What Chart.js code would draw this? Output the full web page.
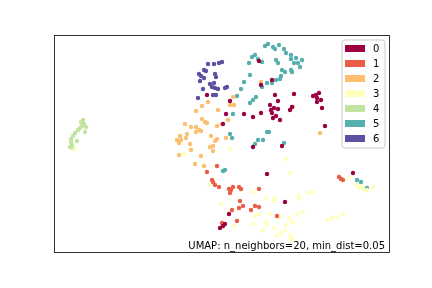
<!DOCTYPE html>
<html>
<head>
<meta charset="utf-8">
<script src="https://cdn.jsdelivr.net/npm/chart.js@4/dist/chart.umd.min.js"></script>
<style>
body { margin: 0; background: #fff; }
</style>
</head>
<body>
<canvas id="umap" width="432" height="288"></canvas>
<script>
// embedding coordinates, one array per label
var labels = ['0', '1', '2', '3', '4', '5', '6'];
var colors = ['#9e0142', '#ea5d47', '#fdbe6f', '#ffffbf', '#bfe5a0', '#55afad', '#5e4fa2'];
var caption = 'UMAP: n_neighbors=20, min_dist=0.05';

var xRange = [54, 389];
var yRange = [35, 252];

var cluster0 = [[207,95],[230,101],[259,61],[272,80],[261,85],[275,95],[294,94],[278,101],[270,105],
  [274,108],[278,109],[272,113],[276,116],[273,118],[280,120],[271,110],[290,110],[292,107],
  [261,113],[253,117],[244,114],[226,114],[223,124],[313,96],[316,95],[319,93],[317,98],
  [321,100],[317,102],[322,108],[325,126],[282,146],[253,147],[267,174],[353,173],[285,202],
  [229,214],[225,224],[223,226],[220,228]];
var cluster1 = [[217,166],[207,172],[212,180],[213,182],[215,185],[219,187],[229,189],[233,187],
  [231,190],[230,193],[239,187],[241,189],[259,189],[240,201],[243,206],[239,208],[251,210],
  [255,206],[259,207],[232,210],[237,221],[222,223],[277,216],[339,177],[341,179],[343,180]];
var cluster2 = [[208,102],[202,106],[218,110],[196,111],[230,105],[234,105],[233,97],[228,120],
  [202,119],[205,122],[207,123],[185,124],[191,127],[196,127],[199,130],[201,131],[196,132],
  [187,134],[180,136],[177,140],[181,140],[186,138],[179,143],[190,144],[191,150],[211,136],
  [217,139],[215,141],[213,146],[210,147],[213,151],[226,138],[222,124],[217,126],[179,155],
  [201,156],[195,164],[204,166],[261,82],[293,107],[320,133]];
var cluster3 = [[75,149],[184,154],[230,149],[286,159],[290,173],[209,185],[221,204],[232,211],
  [253,192],[266,199],[275,198],[274,201],[299,196],[299,199],[308,193],[312,192],[270,214],
  [280,217],[289,218],[297,214],[303,212],[259,214],[255,216],[253,224],[266,222],[267,224],
  [263,230],[234,226],[274,228],[281,233],[285,230],[286,225],[292,223],[293,222],[290,235],
  [291,238],[293,240],[277,236],[327,220],[332,218],[337,217],[343,214],[349,178],[356,185],
  [359,187],[363,189],[367,190],[373,187],[362,186]];
var cluster4 = [[83,120],[81,122],[84,124],[86,127],[80,128],[85,132],[78,130],[75,133],[73,136],
  [77,141],[71,139],[71,142],[72,145],[70,147],[73,148],[82,126]];
var cluster5 = [[265,46],[268,44],[273,47],[275,49],[279,45],[284,49],[286,53],[291,55],[291,59],
  [296,58],[302,60],[294,63],[298,63],[276,60],[278,63],[300,67],[282,70],[285,72],[291,70],
  [292,72],[281,76],[280,79],[276,80],[272,83],[267,83],[262,87],[249,63],[252,57],[255,55],
  [258,59],[262,62],[250,75],[244,82],[241,89],[237,96],[256,97],[253,100],[250,103],[233,114],
  [230,134],[232,138],[267,132],[269,132],[263,140],[258,140],[255,144],[284,143],[225,170],
  [223,171],[357,180],[361,182],[367,188]];
var cluster6 = [[222,62],[219,63],[214,64],[208,64],[204,70],[206,71],[199,74],[201,76],[215,74],
  [216,77],[204,78],[200,81],[210,84],[214,83],[212,87],[215,88],[218,89],[225,88],[227,87],
  [203,89],[213,95],[216,95],[198,98]];

var clusters = [cluster0, cluster1, cluster2, cluster3, cluster4, cluster5, cluster6];

var datasets = clusters.map(function (pts, i) {
  return {
    label: labels[i],
    data: pts.map(function (p) { return { x: p[0], y: p[1] }; }),
    backgroundColor: colors[i],
    borderWidth: 0,
    pointRadius: 2.2,
    pointHoverRadius: 2.2
  };
});

// frame, caption and matplotlib-like legend in the upper right
var decor = {
  id: 'decor',
  afterDraw: function (chart) {
    var ctx = chart.ctx, a = chart.chartArea;
    ctx.save();
    ctx.strokeStyle = '#000';
    ctx.lineWidth = 0.8;
    ctx.strokeRect(a.left + 0.5, a.top + 0.5, a.right - a.left, a.bottom - a.top);

    ctx.fillStyle = '#000';
    ctx.font = '10px "DejaVu Sans"';
    ctx.textAlign = 'right';
    ctx.textBaseline = 'alphabetic';
    ctx.fillText(caption, a.right - 4, a.bottom - 3);

    var bx = 342, by = 40, bw = 43, bh = 108, r = 3;
    ctx.beginPath();
    ctx.moveTo(bx + r, by);
    ctx.arcTo(bx + bw, by, bx + bw, by + bh, r);
    ctx.arcTo(bx + bw, by + bh, bx, by + bh, r);
    ctx.arcTo(bx, by + bh, bx, by, r);
    ctx.arcTo(bx, by, bx + bw, by, r);
    ctx.closePath();
    ctx.fillStyle = 'rgba(255,255,255,0.8)';
    ctx.fill();
    ctx.strokeStyle = '#cccccc';
    ctx.lineWidth = 1;
    ctx.stroke();

    ctx.textAlign = 'left';
    ctx.textBaseline = 'middle';
    labels.forEach(function (lab, i) {
      var cy = 48.5 + i * 15;
      ctx.fillStyle = colors[i];
      ctx.fillRect(345, cy - 3.5, 20, 7);
      ctx.fillStyle = '#000';
      ctx.fillText(lab, 373, cy + 0.5);
    });
    ctx.restore();
  }
};

var chart = new Chart(document.getElementById('umap').getContext('2d'), {
  type: 'scatter',
  data: { datasets: datasets },
  options: {
    responsive: false,
    animation: false,
    layout: { padding: { left: xRange[0], right: 432 - xRange[1], top: yRange[0], bottom: 288 - yRange[1] } },
    scales: {
      x: { type: 'linear', min: xRange[0], max: xRange[1], display: false },
      y: { type: 'linear', min: yRange[0], max: yRange[1], reverse: true, display: false }
    },
    plugins: { legend: { display: false }, tooltip: { enabled: false } }
  },
  plugins: [decor]
});
</script>
</body>
</html>
